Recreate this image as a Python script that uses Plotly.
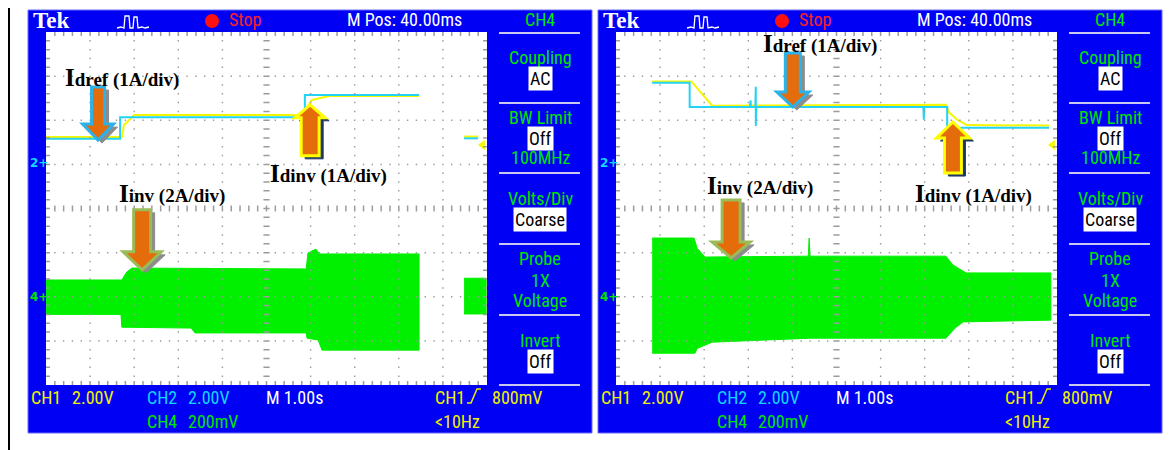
import plotly.graph_objects as go

W, H = 1172, 450
OFF = 8        # page body margin of the host page, compensated here
PXDIV = 44.1   # screen pixels per graticule division

# ---------------- data: time in s (M 1.00 s/div), amplitude in screen divisions -------------
# Left capture
a_idref_t = [0.0, 1.68, 1.68, 5.87, 5.87, 8.46, None, 9.48, 9.80]
a_idref_v = [1.58, 1.58, 2.07, 2.07, 2.57, 2.57, None, 1.59, 1.59]
a_idinv_t = [0.0, 1.72, 1.77, 2.00, 5.80, 6.03, 6.42, 8.46, None, 9.48, 9.80]
a_idinv_v = [1.62, 1.62, 1.89, 2.12, 2.12, 2.46, 2.55, 2.55, None, 1.63, 1.63]
a_iinv_top_t = [0.0, 1.72, 1.83, 1.95, 5.90, 5.94, 6.12, 6.20, 8.46]
a_iinv_top_v = [-1.62, -1.62, -1.44, -1.35, -1.37, -1.01, -0.92, -1.03, -1.03]
a_iinv_bot_t = [0.0, 1.70, 1.72, 3.29, 3.38, 5.90, 5.92, 6.17, 6.26, 8.46]
a_iinv_bot_v = [-2.40, -2.40, -2.69, -2.71, -2.82, -2.82, -2.94, -2.98, -3.21, -3.21]
a_iinv2_t = [9.48, 9.98]
a_iinv2_top_v = [-1.58, -1.58]
a_iinv2_bot_v = [-2.39, -2.39]

# Right capture
b_idref_t = [0.82, 1.67, 1.67, 3.04, 3.05, 3.06, 3.16, 3.17, 3.17, 3.18,
             6.97, 6.98, 6.99, 7.51, 7.51, 9.82]
b_idref_v = [2.85, 2.85, 2.30, 2.30, 2.45, 2.30, 2.30, 2.76, 1.87, 2.30,
             2.30, 2.01, 2.30, 2.30, 1.83, 1.83]
b_idinv_t = [0.82, 1.71, 2.18, 7.48, 7.55, 7.75, 7.96, 9.82]
b_idinv_v = [2.88, 2.88, 2.33, 2.35, 2.18, 2.00, 1.89, 1.88]
b_iinv_top_t = [0.82, 1.77, 1.84, 2.02, 4.36, 4.38, 4.40, 7.48, 7.64, 7.94, 9.86]
b_iinv_top_v = [-0.67, -0.67, -0.90, -1.10, -1.08, -0.67, -1.08, -1.08, -1.28, -1.46, -1.46]
b_iinv_bot_t = [0.82, 1.79, 1.84, 2.18, 4.40, 7.48, 7.69, 7.87, 9.86]
b_iinv_bot_v = [-3.28, -3.28, -3.17, -3.03, -2.94, -2.94, -2.71, -2.57, -2.53]

trig_t = [9.90]
trig_v = [1.44]
ch2_ground_v = 1.03
ch4_ground_v = -2.0

label_names = ["Idref (1A/div)", "Idinv (1A/div)", "Iinv (2A/div)"]
a_label_t = [0.39, 5.03, 1.61]
a_label_v = [2.98, 0.80, 0.35]
b_label_t = [3.29, 6.73, 2.02]
b_label_v = [3.75, 0.35, 0.53]
a_tip_t = [1.18, 5.99, 2.18]
a_tip_v = [1.55, 2.35, -1.39]
b_tip_t = [4.01, 7.64, 2.61]
b_tip_v = [2.30, 1.96, -1.12]

# ---------------- styling ----------------
BLUE = "#0000F5"
CYAN = "#22D3F5"
YELLOW = "#F6F600"
GREEN = "#00F000"
TGREEN = "#00E600"
TYEL = "#F0F000"
TCYAN = "#10D8FF"
ORANGE = "#E46C0A"
GRAT = "#9C9C9C"
SCOPE_FONT = "Liberation Sans Narrow, Arial Narrow, Roboto Condensed, DejaVu Sans Condensed, Liberation Sans, sans-serif"
SERIF = "Liberation Serif, Times New Roman, serif"

def X(px):
    return (px - OFF) / W

def Y(py):
    return 1 - (py - OFF) / H

fig = go.Figure()

def band(top_t, top_v, bot_t, bot_v):
    return list(top_t) + list(bot_t)[::-1], list(top_v) + list(bot_v)[::-1]

def add_traces(xa, ya, idref_t, idref_v, idinv_t, idinv_v, bx, by):
    common = dict(xaxis=xa, yaxis=ya, hoverinfo="skip", showlegend=False)
    fig.add_trace(go.Scatter(x=bx, y=by, mode="lines", fill="toself", fillcolor=GREEN,
                             line=dict(color=GREEN, width=1), **common))
    fig.add_trace(go.Scatter(x=idinv_t, y=idinv_v, mode="lines",
                             line=dict(color=YELLOW, width=2), **common))
    fig.add_trace(go.Scatter(x=idref_t, y=idref_v, mode="lines",
                             line=dict(color=CYAN, width=2), **common))
    fig.add_trace(go.Scatter(x=trig_t, y=trig_v, mode="markers",
                             marker=dict(symbol="triangle-left", size=9, color=YELLOW), **common))

ax, ay = band(a_iinv_top_t, a_iinv_top_v, a_iinv_bot_t, a_iinv_bot_v)
ax2, ay2 = band(a_iinv2_t, a_iinv2_top_v, a_iinv2_t, a_iinv2_bot_v)
add_traces("x", "y", a_idref_t, a_idref_v, a_idinv_t, a_idinv_v,
           ax + [None] + ax2, ay + [None] + ay2)
bx, by = band(b_iinv_top_t, b_iinv_top_v, b_iinv_bot_t, b_iinv_bot_v)
add_traces("x2", "y2", b_idref_t, b_idref_v, b_idinv_t, b_idinv_v, bx, by)

shapes = []
annots = []

# page border line on the left (as close to the page edge as the figure can draw)
shapes.append(dict(type="line", xref="paper", yref="paper", x0=X(9), x1=X(9), y0=Y(450), y1=Y(0),
                   line=dict(color="black", width=2), layer="below"))

def graticule_path():
    s = []
    d = 0.016
    for i in range(1, 10):
        if i == 5:
            continue
        for k in range(1, 40):
            y = -4 + 0.2 * k
            s.append(f"M{i-d:.3f},{y:.3f}L{i+d:.3f},{y:.3f}")
    for j in (-3, -2, -1, 1, 2, 3):
        for k in range(1, 50):
            x = 0.2 * k
            if abs(x - round(x)) < 1e-6:
                continue
            s.append(f"M{x-d:.3f},{j}L{x+d:.3f},{j}")
    for k in range(1, 50):
        x = 0.2 * k
        s.append(f"M{x:.3f},-0.07L{x:.3f},0.07")
        s.append(f"M{x:.3f},4L{x:.3f},3.91")
        s.append(f"M{x:.3f},-4L{x:.3f},-3.91")
    for k in range(1, 40):
        y = -4 + 0.2 * k
        s.append(f"M4.93,{y:.3f}L5.07,{y:.3f}")
        s.append(f"M0,{y:.3f}L0.09,{y:.3f}")
        s.append(f"M10,{y:.3f}L9.91,{y:.3f}")
    return "".join(s)

GPATH = graticule_path()

def arrow_path(t, v, down, hh, hl, sh, sl, ox=0.0, oy=0.0):
    sgn = 1 if down else -1
    pts = [(0, 0), (hh, hl), (sh, hl), (sh, hl + sl), (-sh, hl + sl), (-sh, hl), (-hh, hl)]
    out = []
    for n, (px, py) in enumerate(pts):
        xx = t + (px + ox) / PXDIV
        yy = v + (sgn * py - oy) / PXDIV
        out.append(("M" if n == 0 else "L") + f"{xx:.4f},{yy:.4f}")
    return "".join(out) + "Z"

# arrow styles: (down?, head half-width, head length, shaft half-width, shaft length, outline, shadow)
a_arrow_geom = [(True, 15.5, 16, 6.5, 37, "#2CB2E8", "#8C8C8C"),
                (False, 15, 13, 9, 38, "#FFFF00", "#1F3864"),
                (True, 19, 18, 8.5, 42, "#9BBB59", "#8C8C8C")]
b_arrow_geom = [(True, 16, 15, 7.5, 39, "#2CB2E8", "#8C8C8C"),
                (False, 16.5, 16, 8.5, 35, "#FFFF00", "#1F3864"),
                (True, 19, 16, 9, 42, "#9BBB59", "#8C8C8C")]

def panel(dx, xr, yr, tips_t, tips_v, geoms, lab_t, lab_v):
    # housing
    shapes.append(dict(type="rect", xref="paper", yref="paper", x0=X(28 + dx), x1=X(592 + dx),
                       y0=Y(433), y1=Y(10), fillcolor=BLUE, line=dict(color="#6A6AFF", width=1),
                       layer="below"))
    shapes.append(dict(type="rect", xref=xr, yref=yr, x0=0, x1=10, y0=-4, y1=4,
                       fillcolor="white", line=dict(width=0), layer="below"))
    for py in (33, 103, 173, 244, 315, 385):
        shapes.append(dict(type="line", xref="paper", yref="paper", x0=X(499 + dx), x1=X(580 + dx),
                           y0=Y(py), y1=Y(py), line=dict(color="#C8C8F0", width=2), layer="below"))
    # stop octagon
    shapes.append(dict(type="circle", xref="paper", yref="paper", x0=X(205 + dx), x1=X(219 + dx),
                       y0=Y(28), y1=Y(14), fillcolor="#FF1010", line=dict(width=0), layer="below"))
    # acquisition icon
    pts = [(117, 28), (121, 27), (124, 28), (125, 16), (129, 16), (130, 28), (133, 28), (134, 17),
           (137, 17), (138, 28), (142, 27), (145, 28), (149, 27)]
    path = "".join(("M" if i == 0 else "L") + f"{X(p[0] + dx):.5f},{Y(p[1]):.5f}" for i, p in enumerate(pts))
    shapes.append(dict(type="path", xref="paper", yref="paper", path=path,
                       line=dict(color="white", width=1.3), layer="below"))
    # trigger slope symbol
    pts = [(467, 403), (471, 403), (477, 389), (481, 389)]
    path = "".join(("M" if i == 0 else "L") + f"{X(p[0] + dx):.5f},{Y(p[1]):.5f}" for i, p in enumerate(pts))
    shapes.append(dict(type="path", xref="paper", yref="paper", path=path,
                       line=dict(color=TYEL, width=1.5), layer="below"))
    # graticule above the waveforms
    shapes.append(dict(type="path", xref=xr, yref=yr, path=GPATH,
                       line=dict(color=GRAT, width=1.5), layer="above"))
    # arrows
    for (t, v, g) in zip(tips_t, tips_v, geoms):
        down, hh, hl, sh, sl, oc, shc = g
        shapes.append(dict(type="path", xref=xr, yref=yr,
                           path=arrow_path(t, v, down, hh, hl, sh, sl, 4, 3),
                           fillcolor=shc, line=dict(color=shc, width=1), layer="above"))
        shapes.append(dict(type="path", xref=xr, yref=yr,
                           path=arrow_path(t, v, down, hh, hl, sh, sl),
                           fillcolor=ORANGE, line=dict(color=oc, width=3), layer="above"))
    # arrow labels
    for name, t, v in zip(label_names, lab_t, lab_v):
        txt = f"<b><span style='font-size:25px'>{name[0]}</span>{name[1:]}</b>"
        annots.append(dict(xref=xr, yref=yr, x=t, y=v, text=txt, showarrow=False,
                           xanchor="left", yanchor="middle",
                           font=dict(family=SERIF, size=19, color="black")))

    def t_(s, px, py, color, size=18, anchor="left", family=SCOPE_FONT, box=False):
        a = dict(xref="paper", yref="paper", x=X(px + dx), y=Y(py), text=s, showarrow=False,
                 xanchor=anchor, yanchor="middle", font=dict(family=family, size=size, color=color))
        if box:
            a.update(bgcolor="white", borderpad=1, font=dict(family=family, size=size, color="black"))
        annots.append(a)

    t_("<b>Tek</b>", 31, 21, "white", 23, family=SERIF)
    t_("Stop", 227, 20, "#FF2020")
    t_("M Pos: 40.00ms", 345, 20, "white")
    t_("CH4", 540, 20, TGREEN, anchor="center")
    mx = 540
    t_("Coupling", mx, 57, TGREEN, anchor="center")
    t_("AC", mx, 78, "black", anchor="center", box=True)
    t_("BW Limit", mx, 117, TGREEN, anchor="center")
    t_("Off", mx, 138, "black", anchor="center", box=True)
    t_("100MHz", mx, 158, TGREEN, anchor="center")
    t_("Volts/Div", mx, 198, TGREEN, anchor="center")
    t_("Coarse", mx, 219, "black", anchor="center", box=True)
    t_("Probe", mx, 258, TGREEN, anchor="center")
    t_("1X", mx, 280, TGREEN, anchor="center")
    t_("Voltage", mx, 300, TGREEN, anchor="center")
    t_("Invert", mx, 340, TGREEN, anchor="center")
    t_("Off", mx, 361, "black", anchor="center", box=True)
    t_("CH1", 29, 397, TYEL)
    t_("2.00V", 70, 397, TYEL)
    t_("CH2", 145, 397, TCYAN)
    t_("2.00V", 186, 397, TCYAN)
    t_("M 1.00s", 264, 397, "white")
    t_("CH1", 433, 397, TYEL)
    t_("800mV", 490, 397, TYEL)
    t_("CH4", 145, 421, TGREEN)
    t_("200mV", 186, 421, TGREEN)
    t_("&lt;10Hz", 433, 421, TYEL)
    # channel ground markers
    annots.append(dict(xref="paper", yref=yr, x=X(28 + dx), y=ch2_ground_v, text="<b>2+</b>",
                       showarrow=False, xanchor="left", yanchor="middle",
                       font=dict(family="DejaVu Sans", size=12, color=TCYAN)))
    annots.append(dict(xref="paper", yref=yr, x=X(28 + dx), y=ch4_ground_v, text="<b>4+</b>",
                       showarrow=False, xanchor="left", yanchor="middle",
                       font=dict(family="DejaVu Sans", size=12, color=TGREEN)))

panel(0, "x", "y", a_tip_t, a_tip_v, a_arrow_geom, a_label_t, a_label_v)
panel(570, "x2", "y2", b_tip_t, b_tip_v, b_arrow_geom, b_label_t, b_label_v)

ydom = [Y(385), Y(32)]
fig.update_layout(
    width=W, height=H, margin=dict(l=0, r=0, t=0, b=0),
    paper_bgcolor="white", plot_bgcolor="rgba(0,0,0,0)", showlegend=False,
    xaxis=dict(domain=[X(46), X(487)], range=[0, 10], visible=False, fixedrange=True, anchor="y"),
    yaxis=dict(domain=ydom, range=[-4, 4], visible=False, fixedrange=True, anchor="x"),
    xaxis2=dict(domain=[X(616), X(1057)], range=[0, 10], visible=False, fixedrange=True, anchor="y2"),
    yaxis2=dict(domain=ydom, range=[-4, 4], visible=False, fixedrange=True, anchor="x2"),
    shapes=shapes, annotations=annots,
)

fig.write_html("out.html", config={"displayModeBar": False})
